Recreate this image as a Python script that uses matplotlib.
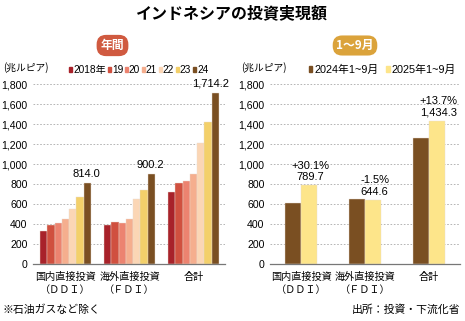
import matplotlib
matplotlib.use("Agg")
import matplotlib.pyplot as plt
from matplotlib.patches import Patch
import numpy as np

NUM = "Liberation Sans"
FAM = [NUM, "Noto Sans CJK JP", "DejaVu Sans"]
JP = ["Noto Sans CJK JP", "DejaVu Sans"]
plt.rcParams["font.family"] = FAM

# --- data (trillion rupiah) ---
cats = ["国内直接投資\n（ＤＤＩ）", "海外直接投資\n（ＦＤＩ）", "合計"]
years = ["2018年", "19", "20", "21", "22", "23", "24"]
annual = np.array([
    [328.6, 386.5, 413.5, 447.1, 552.8, 674.9, 814.0],   # DDI
    [392.7, 423.1, 412.8, 454.0, 654.4, 744.0, 900.2],   # FDI
    [721.3, 809.6, 826.3, 901.0, 1207.2, 1418.9, 1714.2],  # total
])
annual_labels = ["814.0", "900.2", "1,714.2"]
ytd_names = ["2024年1~9月", "2025年1~9月"]
ytd_2024 = [607.0, 654.4, 1261.5]
ytd_2025 = [789.7, 644.6, 1434.3]
ytd_labels = ["+30.1%\n789.7", "-1.5%\n644.6", "+13.7%\n1,434.3"]
yticks = [0, 200, 400, 600, 800, 1000, 1200, 1400, 1600, 1800]

year_colors = ["#a8222a", "#d0503f", "#ec8370", "#f5ae8e", "#fbd6b5", "#f3d06a", "#7a4f22"]
ytd_colors = ["#7a4f22", "#fde58a"]

W, H = 465, 321
fig = plt.figure(figsize=(W / 100, H / 100), dpi=100)

def fx(px): return px / W
def fy(py): return 1 - py / H

def style_axis(ax):
    ax.set_ylim(0, 1800)
    ax.set_yticks(yticks)
    ax.set_yticklabels([f"{v:,}" for v in yticks], fontsize=7.6, family=NUM)
    ax.tick_params(axis="y", length=0, pad=4)
    ax.tick_params(axis="x", length=0, pad=6)
    for s in ["left", "right", "top"]:
        ax.spines[s].set_visible(False)
    ax.spines["bottom"].set_color("#777777")
    ax.spines["bottom"].set_linewidth(0.9)
    ax.grid(axis="y", color="#aaaaaa", lw=0.6, ls=(0, (2, 2)))
    ax.set_axisbelow(True)
    ax.set_xticks(range(3))
    ax.set_xticklabels(cats, fontsize=7.3, family=JP, linespacing=1.3)

bottom = 57 / H
height = 180 / H

# left panel: annual
axL = fig.add_axes([fx(33), bottom, fx(225 - 33), height])
bw = 0.1138
x = np.arange(3)
for i, yr in enumerate(years):
    axL.bar(x + (i - 3) * bw, annual[:, i], bw, color=year_colors[i],
            edgecolor="#e8ddd0", linewidth=0.3, label=yr)
for j, lab in enumerate(annual_labels):
    dx = -0.07 if j == 2 else -0.02
    axL.text(x[j] + 3 * bw + dx, annual[j, 6] + 40, lab, ha="center", va="bottom",
             fontsize=8, family=NUM, clip_on=False)
axL.set_xlim(-0.508, 2.492)
style_axis(axL)

# right panel: Jan-Sep
axR = fig.add_axes([fx(270), bottom, fx(460 - 270), height])
bw2 = 0.25
axR.bar(x - bw2 / 2, ytd_2024, bw2, color=ytd_colors[0], edgecolor="#e8ddd0",
        linewidth=0.3, label=ytd_names[0])
axR.bar(x + bw2 / 2, ytd_2025, bw2, color=ytd_colors[1], edgecolor="#e8ddd0",
        linewidth=0.3, label=ytd_names[1])
for j, lab in enumerate(ytd_labels):
    axR.text(x[j] + bw2 / 2 + 0.02, ytd_2025[j] + 30, lab, ha="center", va="bottom",
             fontsize=8, family=NUM, linespacing=1.15, clip_on=False)
axR.set_xlim(-0.492, 2.484)
style_axis(axR)

# title
fig.text(fx(232), fy(13), "インドネシアの投資実現額", ha="center", va="center",
         fontsize=11.5, fontweight="bold", family=JP)

# badges
fig.text(fx(112.5), fy(45.5), "年間", ha="center", va="center", fontsize=8.5,
         fontweight="bold", color="white", family=JP,
         bbox=dict(boxstyle="round,pad=0.35,rounding_size=0.8", fc="#d05a40", ec="none"))
fig.text(fx(355), fy(45.5), "1～9月", ha="center", va="center", fontsize=8.5,
         fontweight="bold", color="white", family=JP,
         bbox=dict(boxstyle="round,pad=0.3,rounding_size=0.8", fc="#dba33b", ec="none"))

# units
fig.text(fx(3), fy(68), "(兆ルピア)", ha="left", va="center", fontsize=7, family=JP)
fig.text(fx(241), fy(68), "(兆ルピア)", ha="left", va="center", fontsize=7, family=JP)

# legends
hL = [Patch(color=c) for c in year_colors]
fig.legend(hL, years, loc="center left", bbox_to_anchor=(fx(69), fy(70)), ncol=7,
           frameon=False, fontsize=7.3, handlelength=0.3, handleheight=0.5,
           handletextpad=0.12, columnspacing=0.15, borderpad=0, borderaxespad=0)
hR = [Patch(color=c) for c in ytd_colors]
fig.legend(hR, ytd_names, loc="center left", bbox_to_anchor=(fx(309), fy(70)), ncol=2,
           frameon=False, fontsize=7.8, handlelength=0.3, handleheight=0.5,
           handletextpad=0.2, columnspacing=0.7, borderpad=0, borderaxespad=0)

# notes
fig.text(fx(3), fy(310), "※石油ガスなど除く", ha="left", va="center", fontsize=7.8, family=JP)
fig.text(fx(460), fy(310), "出所：投資・下流化省", ha="right", va="center", fontsize=7.8, family=JP)

fig.savefig("out.png", dpi=100)
